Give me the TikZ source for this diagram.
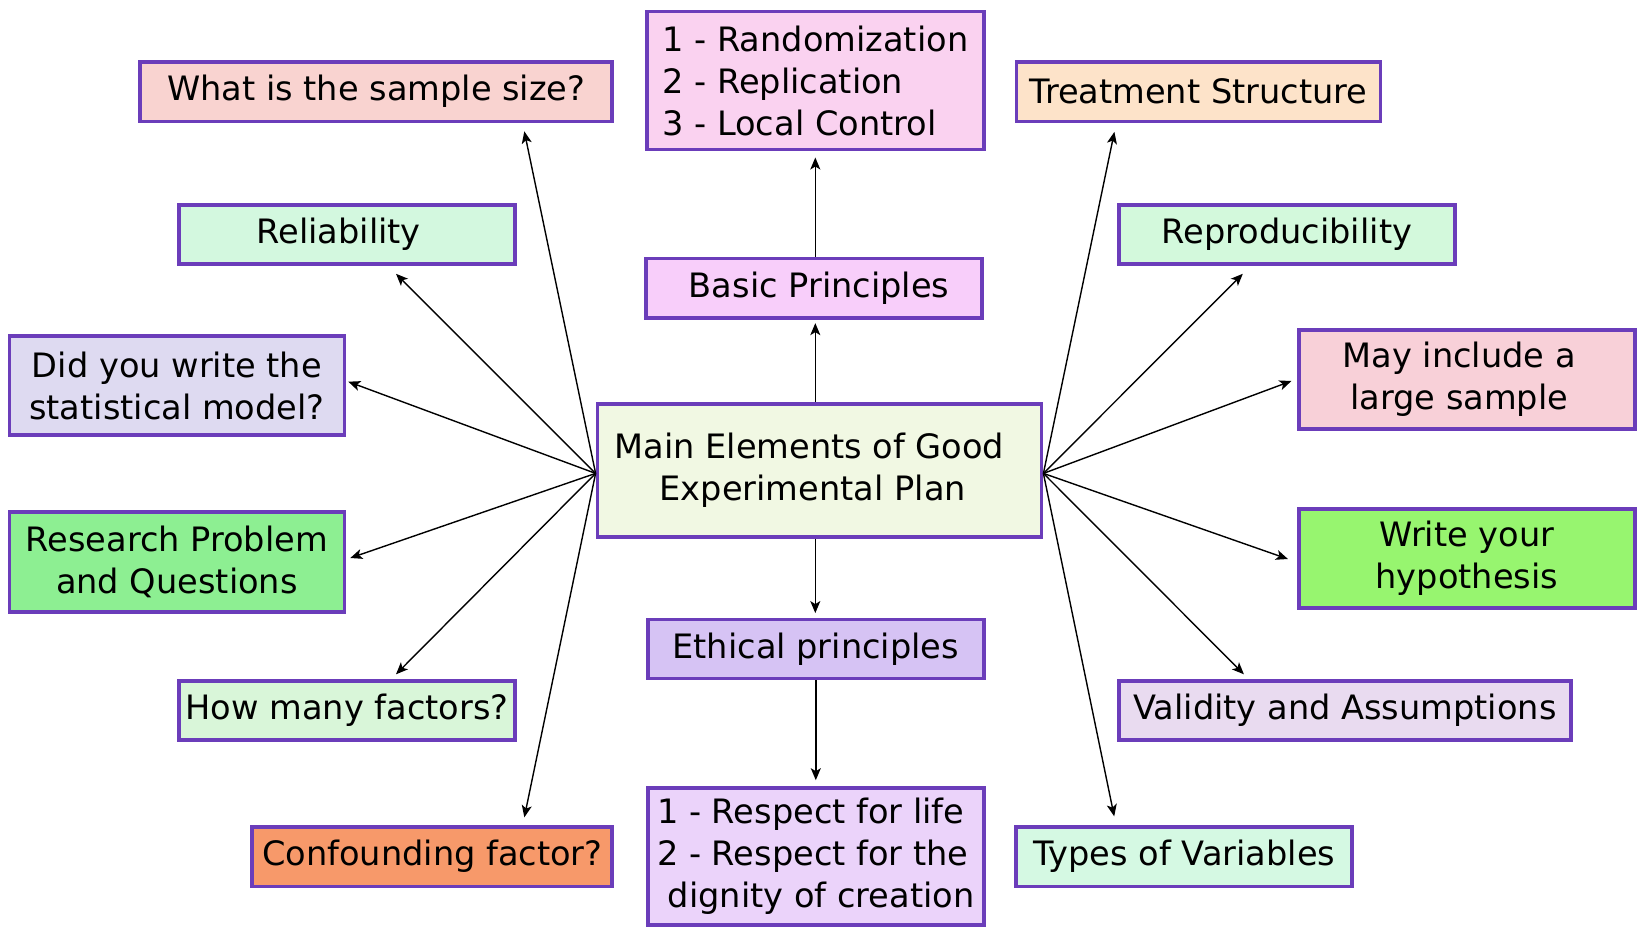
\documentclass[tikz,border=0pt]{standalone}
\usepackage{fontspec}
\setmainfont{DejaVu Sans}
\usetikzlibrary{arrows.meta}
\definecolor{edgepurple}{HTML}{6B3DBA}
\definecolor{samplefill}{HTML}{F9D3D0}
\definecolor{randomfill}{HTML}{FAD2F0}
\definecolor{treatfill}{HTML}{FDE3C9}
\definecolor{reliabfill}{HTML}{D3F8DF}
\definecolor{basicfill}{HTML}{F8CEFA}
\definecolor{reprodfill}{HTML}{D3F9DC}
\definecolor{modelfill}{HTML}{DEDAF1}
\definecolor{mainfill}{HTML}{F1F8E3}
\definecolor{largefill}{HTML}{F8D0D8}
\definecolor{researchfill}{HTML}{8DEF92}
\definecolor{hypofill}{HTML}{97F56F}
\definecolor{ethicalfill}{HTML}{D6C3F4}
\definecolor{factorfill}{HTML}{D9F6D9}
\definecolor{validfill}{HTML}{E9DBF0}
\definecolor{respectfill}{HTML}{EBD3FA}
\definecolor{confoundfill}{HTML}{F7996A}
\definecolor{typesfill}{HTML}{D5F9E3}

\begin{document}
\begin{tikzpicture}[x=0.5pt,y=-0.5pt,
		box/.style={draw=edgepurple,line width=1.9pt,inner sep=0pt,minimum width=168pt,minimum height=29.5pt,font=\fontsize{16.8}{21}\selectfont},
		link/.style={-{Stealth[length=6pt,width=5pt,inset=1.5pt]},line width=0.7pt}]
		\useasboundingbox (0,0) rectangle (1641,929);
		\node [box,fill=mainfill,minimum width=222pt,minimum height=66.5pt,align=center] (main) at (819.5,470.4) {Main Elements of Good\hspace*{0.6em}\\Experimental Plan\hspace*{0.4em}};
		\node [box,fill=samplefill,minimum width=236pt,minimum height=29.85pt] (sample) at (376.3,91.6) {What is the sample size?};
		\node [box,fill=randomfill,minimum width=168.5pt,minimum height=69pt,align=left] (random) at (815.3,80.6) {1 - Randomization\\2 - Replication\\3 - Local Control};
		\node [box,fill=treatfill,minimum width=182pt,minimum height=29.85pt] (treat) at (1198.4,91.6) {Treatment Structure};
		\node [box,fill=reliabfill] (reliab) at (347,234.4) {Reliability\hspace*{0.5em}};
		\node [box,fill=basicfill,minimum height=29.85pt] (basic) at (813.7,288.4) {\ Basic Principles};
		\node [box,fill=reprodfill] (reprod) at (1286.8,234.4) {Reproducibility};
		\node [box,fill=modelfill,minimum width=167.5pt,minimum height=49.7pt,align=center] (model) at (176.9,385.7) {Did you write the\\statistical model?};
		\node [box,fill=largefill,minimum height=49.7pt,align=center] (large) at (1466.8,379.4) {May include a\hspace*{0.45em}\\large sample\hspace*{0.45em}};
		\node [box,fill=researchfill,minimum width=167.5pt,minimum height=50.25pt,align=center] (research) at (176.9,562) {Research Problem\\and Questions};
		\node [box,fill=hypofill,minimum height=49.75pt,align=center] (hypo) at (1466.8,558.4) {Write your\\hypothesis};
		\node [box,fill=ethicalfill] (ethical) at (815.8,648.9) {Ethical principles};
		\node [box,fill=factorfill] (factor) at (347,710.7) {How many factors?};
		\node [box,fill=validfill,minimum width=226pt] (valid) at (1344.9,710.7) {Validity and Assumptions};
		\node [box,fill=respectfill,minimum height=68.5pt,align=left] (respect) at (815.8,856.6) {1 - Respect for life\\2 - Respect for the\\\hspace*{0.32em}dignity of creation};
		\node [box,fill=confoundfill,minimum width=180pt,minimum height=29.85pt] (confound) at (432.3,856.6) {Confounding factor?};
		\node [box,fill=typesfill,minimum height=29.85pt] (types) at (1184.2,856.6) {Types of Variables};
		\coordinate (lhub) at ([shift={(0,3)}]main.west);
		\coordinate (rhub) at ([shift={(0,3)}]main.east);
		\draw [link] (lhub) -- ([shift={(148,8)}]sample.south);
		\draw [link] (lhub) -- ([shift={(49,8)}]reliab.south);
		\draw [link] (lhub) -- ([shift={(2,-4)}]model.east);
		\draw [link] (lhub) -- ([shift={(4,-4)}]research.east);
		\draw [link] (lhub) -- ([shift={(49,-5)}]factor.north);
		\draw [link] (lhub) -- ([shift={(92,-7.5)}]confound.north);
		\draw [link] (rhub) -- ([shift={(-84,8.5)}]treat.south);
		\draw [link] (rhub) -- ([shift={(-44,8)}]reprod.south);
		\draw [link] (rhub) -- ([shift={(-5.5,1.6)}]large.west);
		\draw [link] (rhub) -- ([shift={(-9,0.6)}]hypo.west);
		\draw [link] (rhub) -- ([shift={(-101,-5)}]valid.north);
		\draw [link] (rhub) -- ([shift={(-70,-8.5)}]types.north);
		\draw [link,shorten >=1.5pt] (main.north -| random.south) -- (basic.south -| random.south);
		\draw [link,shorten >=3pt] (basic.north -| random.south) -- (random.south);
		\draw [link,shorten >=2.2pt] (main.south -| random.south) -- (ethical.north -| random.south);
		\draw [link,shorten >=3pt] (ethical.south) -- (respect.north);
	\end{tikzpicture}
\end{document}
